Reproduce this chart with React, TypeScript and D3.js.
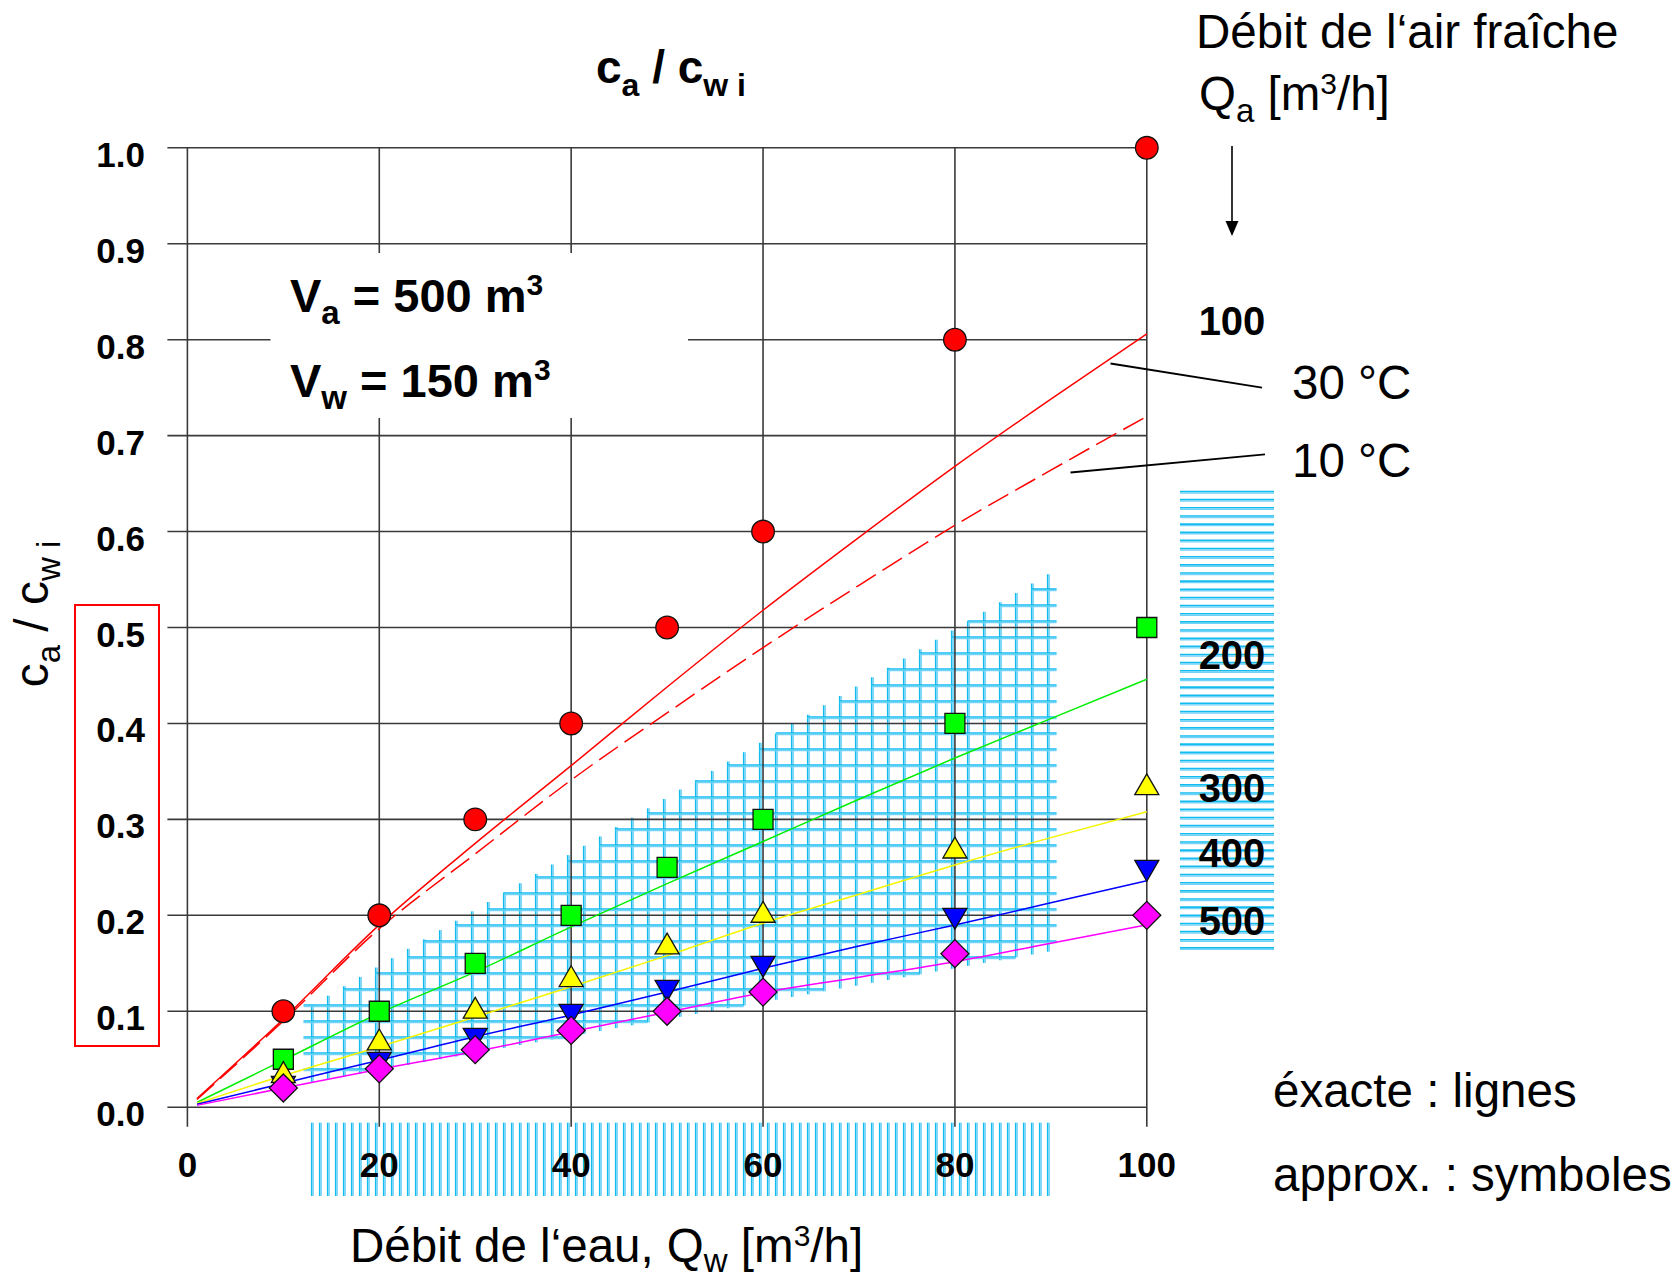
import React from 'react';
import * as d3 from 'd3';

// ---------- data ----------
const qwTicks = [0, 20, 40, 60, 80, 100];
const ratioTicks = [0, 0.1, 0.2, 0.3, 0.4, 0.5, 0.6, 0.7, 0.8, 0.9, 1.0];
const ratioTickLabels = ['0.0', '0.1', '0.2', '0.3', '0.4', '0.5', '0.6', '0.7', '0.8', '0.9', '1.0'];

// exact solutions (lines)
const qwLine = [1, 10, 20, 30, 40, 50, 60, 70, 80, 90, 100];
const exact100at30C = [0.009, 0.092, 0.19, 0.275, 0.356, 0.438, 0.518, 0.594, 0.668, 0.738, 0.806];
const exact100at10C = [0.008, 0.09, 0.186, 0.264, 0.341, 0.411, 0.479, 0.544, 0.6065, 0.664, 0.72];
const exact200 = [0.005, 0.049, 0.098, 0.141, 0.188, 0.233, 0.277, 0.321, 0.364, 0.405, 0.446];
const exact300 = [0.004, 0.033, 0.063, 0.094, 0.1256, 0.158, 0.1917, 0.222, 0.2525, 0.281, 0.308];
const exact400 = [0.003, 0.025, 0.049, 0.0735, 0.096, 0.12, 0.1448, 0.168, 0.19, 0.213, 0.236];
const exact500 = [0.002, 0.02, 0.0395, 0.058, 0.0787, 0.099, 0.1194, 0.1355, 0.1517, 0.171, 0.19];

// approximations (symbols)
const qwSym = [10, 20, 30, 40, 50, 60, 80, 100];
const approx100 = [0.1, 0.2, 0.3, 0.4, 0.5, 0.6, 0.8, 1.0];
const approx200 = [0.05, 0.1, 0.15, 0.2, 0.25, 0.3, 0.4, 0.5];
const approx300 = [0.033, 0.067, 0.1, 0.133, 0.167, 0.2, 0.267, 0.333];
const approx400 = [0.025, 0.05, 0.075, 0.1, 0.125, 0.15, 0.2, 0.25];
const approx500 = [0.02, 0.04, 0.06, 0.08, 0.1, 0.12, 0.16, 0.2];

const qaLabels = ['100', '200', '300', '400', '500'];

// cross-hatched region (data coords)
const hatchQw = [12.1, 90.6];
const hatchTop = [0.1015, 0.561];
const hatchBottom = [0.0248, 0.1638];

// ---------- layout ----------
const W = 1679;
const H = 1279;
const FONT = "'Liberation Sans', Arial, Helvetica, sans-serif";
const GRID = '#3a3a3a';
const HATCH_DARK = '#12bcef';
const HATCH_LIGHT = '#72d2f8';

function hatchH(key: string, x1: number, x2: number, yy: number) {
  return (
    <g key={key}>
      <line x1={x1} x2={x2} y1={yy} y2={yy} stroke={HATCH_DARK} strokeWidth={1.6} />
      <line x1={x1} x2={x2} y1={yy + 1.5} y2={yy + 1.5} stroke={HATCH_LIGHT} strokeWidth={1.4} />
    </g>
  );
}
function hatchV(key: string, xx: number, y1: number, y2: number) {
  return (
    <g key={key}>
      <line x1={xx} x2={xx} y1={y1} y2={y2} stroke={HATCH_DARK} strokeWidth={1.6} />
      <line x1={xx + 1.5} x2={xx + 1.5} y1={y1} y2={y2} stroke={HATCH_LIGHT} strokeWidth={1.4} />
    </g>
  );
}

export default function App() {
  const x = d3.scaleLinear().domain([0, 100]).range([187.4, 1146.8]);
  const y = d3.scaleLinear().domain([0, 1]).range([1107.2, 147.8]);

  const lineGen = d3
    .line<number>()
    .x((_, i) => x(qwLine[i]))
    .y((d) => y(d))
    .curve(d3.curveMonotoneX);

  // ---- cross hatch ----
  const topAt = d3.scaleLinear().domain(hatchQw).range(hatchTop);
  const botAt = d3.scaleLinear().domain(hatchQw).range(hatchBottom);
  const hx0 = x(hatchQw[0]);
  const hx1 = x(hatchQw[1]);
  const vxs: number[] = [];
  for (let v = hx0 + 8.2; v <= hx1 - 7.5; v += 16) vxs.push(v);
  const topPx = (px: number) => y(topAt(x.invert(px)));
  const botPx = (px: number) => y(botAt(x.invert(px)));
  const crossEls: JSX.Element[] = [];
  vxs.forEach((vx, i) => crossEls.push(hatchV('cv' + i, vx, topPx(vx), botPx(vx))));
  const hyStart = y(0.1065);
  const hys: number[] = [];
  for (let k = -40; k <= 10; k++) {
    const yy = hyStart + 16 * k;
    if (yy >= topPx(hx1) - 2 && yy <= botPx(hx0)) hys.push(yy);
  }
  hys.forEach((yy, j) => {
    const inside = vxs.filter((vx) => topPx(vx) <= yy + 0.5 && botPx(vx) >= yy - 0.5);
    if (!inside.length) return;
    let a = d3.min(inside) as number;
    let b = d3.max(inside) as number;
    if (a === vxs[0]) a = hx0;
    if (b === vxs[vxs.length - 1]) b = hx1;
    crossEls.push(hatchH('ch' + j, a, b, yy));
  });

  // ---- bottom vertical hatch ----
  const bottomEls: JSX.Element[] = [];
  for (let v = hx0 + 8.2, i = 0; v <= hx1 - 7.5; v += 8, i++) {
    bottomEls.push(hatchV('bv' + i, v, 1122.7, 1196));
  }
  // ---- right horizontal hatch ----
  const rightEls: JSX.Element[] = [];
  for (let h = 491.5, i = 0; h <= 955.5; h += 8.15, i++) {
    rightEls.push(hatchH('rh' + i, 1180, 1274, h));
  }

  const sq = d3.symbol(d3.symbolSquare, 400)() as string;
  const circ = d3.symbol(d3.symbolCircle, Math.PI * 11.3 * 11.3)() as string;
  const tri = d3.symbol(d3.symbolTriangle, 250)() as string;
  const dia = d3.symbol(d3.symbolSquare, 19.8 * 19.8)() as string;

  const symSeries = [
    { vals: approx100, color: '#ff0000', path: circ, rot: 0 },
    { vals: approx200, color: '#00ff00', path: sq, rot: 0 },
    { vals: approx400, color: '#0000ff', path: tri, rot: 180 },
    { vals: approx300, color: '#ffff00', path: tri, rot: 0 },
    { vals: approx500, color: '#ff00ff', path: dia, rot: 45 },
  ];

  const lineSeries = [
    { vals: exact100at30C, color: '#ff0000', dash: undefined as string | undefined },
    { vals: exact100at10C, color: '#ff0000', dash: '23 8' },
    { vals: exact200, color: '#00ee00', dash: undefined },
    { vals: exact300, color: '#f5f500', dash: undefined },
    { vals: exact400, color: '#0000ff', dash: undefined },
    { vals: exact500, color: '#ff00ff', dash: undefined },
  ];

  const qaLabelY = [335, 669, 802, 867, 935];

  return (
    <svg
      width={W}
      height={H}
      style={{ position: 'absolute', left: 0, top: 0, display: 'block', background: '#fff' }}
      fontFamily={FONT}
    >
      <rect x={0} y={0} width={W} height={H} fill="#fff" />

      {/* hatches */}
      <g>{crossEls}</g>
      <g>{bottomEls}</g>
      <g>{rightEls}</g>

      {/* grid */}
      <g>
        {ratioTicks.map((t, i) => (
          <line key={'gy' + i} x1={x(0) - 20} x2={x(100)} y1={y(t)} y2={y(t)} stroke={GRID} strokeWidth={1.6} />
        ))}
        {qwTicks.map((t, i) => (
          <line key={'gx' + i} x1={x(t)} x2={x(t)} y1={y(1)} y2={y(0) + 19.5} stroke={GRID} strokeWidth={1.6} />
        ))}
      </g>
      {/* white box behind the volume text */}
      <rect x={270.5} y={253} width={417.5} height={165} fill="#fff" />

      {/* exact lines */}
      <g fill="none">
        {lineSeries.map((s, i) => (
          <path key={'l' + i} d={lineGen(s.vals) as string} stroke={s.color} strokeWidth={1.5} strokeDasharray={s.dash} />
        ))}
      </g>

      {/* symbols */}
      <g>
        {symSeries.map((s, si) =>
          s.vals.map((v, i) => (
            <path
              key={'s' + si + '_' + i}
              d={s.path}
              transform={`translate(${x(qwSym[i])},${y(v)}) rotate(${s.rot})`}
              fill={s.color}
              stroke="#111"
              strokeWidth={1.3}
            />
          ))
        )}
      </g>

      {/* y tick labels */}
      <g fontWeight="bold" fontSize={35} textAnchor="end">
        {ratioTicks.map((t, i) => (
          <text key={'yt' + i} x={145} y={y(t) + 19}>
            {ratioTickLabels[i]}
          </text>
        ))}
      </g>
      {/* x tick labels */}
      <g fontWeight="bold" fontSize={35} textAnchor="middle">
        {qwTicks.map((t, i) => (
          <text key={'xt' + i} x={x(t)} y={1177}>
            {String(t)}
          </text>
        ))}
      </g>

      {/* title */}
      <text x={596} y={83} fontWeight="bold" fontSize={46} style={{ whiteSpace: 'pre' }}>
        <tspan>c</tspan>
        <tspan fontSize={32} dy={13}>a</tspan>
        <tspan dy={-13}>{' / c'}</tspan>
        <tspan fontSize={32} dy={13}>{'w i'}</tspan>
      </text>

      {/* volumes */}
      <text x={290} y={311.5} fontWeight="bold" fontSize={47} style={{ whiteSpace: 'pre' }}>
        <tspan>V</tspan>
        <tspan fontSize={33} dy={12}>a</tspan>
        <tspan dy={-12}>{' = 500 m'}</tspan>
        <tspan fontSize={30} dy={-17}>3</tspan>
      </text>
      <text x={290} y={396.5} fontWeight="bold" fontSize={47} style={{ whiteSpace: 'pre' }}>
        <tspan>V</tspan>
        <tspan fontSize={33} dy={12}>w</tspan>
        <tspan dy={-12}>{' = 150 m'}</tspan>
        <tspan fontSize={30} dy={-17}>3</tspan>
      </text>

      {/* y axis title */}
      <text
        transform="translate(48,614) rotate(-90)"
        textAnchor="middle"
        fontSize={48}
        style={{ whiteSpace: 'pre' }}
      >
        <tspan>c</tspan>
        <tspan fontSize={33} dy={12}>a</tspan>
        <tspan dy={-12}>{' / c'}</tspan>
        <tspan fontSize={33} dy={12}>{'w i'}</tspan>
      </text>
      <rect x={75} y={605} width={84} height={441} fill="none" stroke="#ff0000" strokeWidth={2} />

      {/* x axis title */}
      <text x={350} y={1262} fontSize={47.5} style={{ whiteSpace: 'pre' }}>
        <tspan>{'Débit de l‘eau, Q'}</tspan>
        <tspan fontSize={33} dy={10}>w</tspan>
        <tspan dy={-10}>{' [m'}</tspan>
        <tspan fontSize={30} dy={-16}>3</tspan>
        <tspan dy={16}>/h]</tspan>
      </text>

      {/* right legend */}
      <text x={1196} y={48} fontSize={47.5}>Débit de l‘air fraîche</text>
      <text x={1199} y={110} fontSize={47.5} style={{ whiteSpace: 'pre' }}>
        <tspan>Q</tspan>
        <tspan fontSize={33} dy={12}>a</tspan>
        <tspan dy={-12}>{' [m'}</tspan>
        <tspan fontSize={30} dy={-16}>3</tspan>
        <tspan dy={16}>/h]</tspan>
      </text>
      <line x1={1232} x2={1232} y1={146} y2={224} stroke="#000" strokeWidth={1.6} />
      <path d="M1225.5,221 L1238.5,221 L1232,236 Z" fill="#000" />

      <g fontWeight="bold" fontSize={40} textAnchor="middle">
        {qaLabels.map((l, i) => (
          <text key={'qa' + i} x={1232} y={qaLabelY[i]}>
            {l}
          </text>
        ))}
      </g>

      <text x={1292} y={399} fontSize={47.5}>30 °C</text>
      <text x={1292} y={477} fontSize={47.5}>10 °C</text>
      <line x1={1110.5} y1={363.5} x2={1262} y2={387.6} stroke="#000" strokeWidth={1.8} />
      <line x1={1070.5} y1={472.5} x2={1265} y2={454.3} stroke="#000" strokeWidth={1.8} />

      <text x={1273} y={1107} fontSize={47.5}>éxacte : lignes</text>
      <text x={1273} y={1191} fontSize={47.5}>approx. : symboles</text>
    </svg>
  );
}
